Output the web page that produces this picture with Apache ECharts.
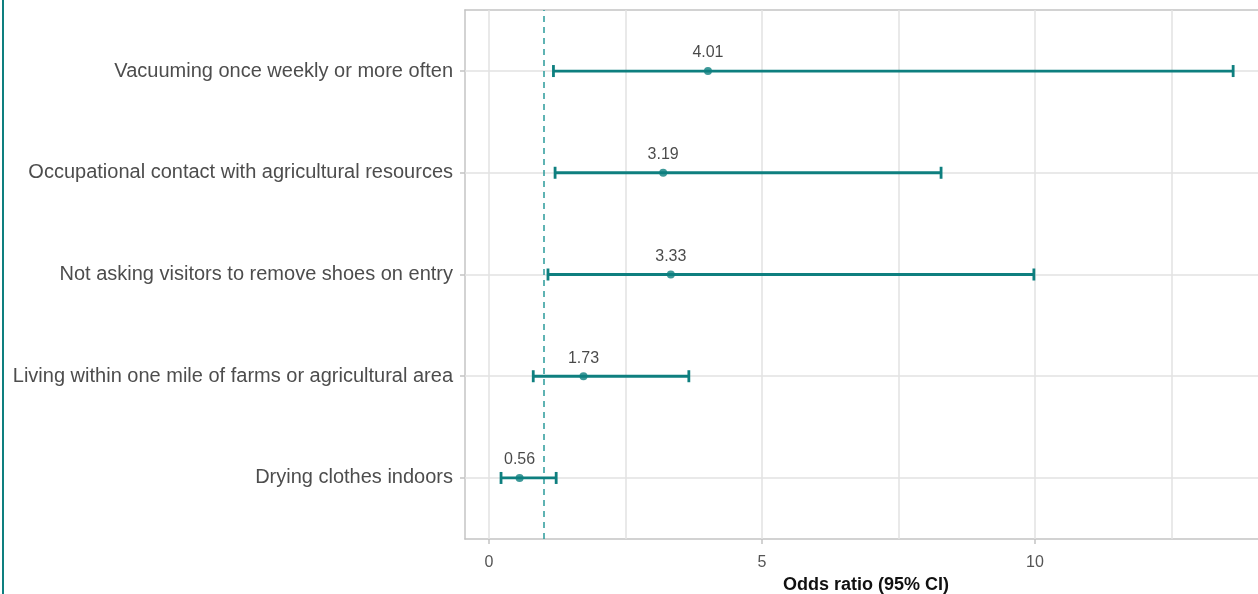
<!DOCTYPE html>
<html>
<head>
<meta charset="utf-8">
<script src="https://cdn.jsdelivr.net/npm/echarts@6/dist/echarts.min.js"></script>
<style>
  html, body { margin: 0; padding: 0; background: #fff; }
  #chart { width: 1258px; height: 594px; }
</style>
</head>
<body>
<div id="chart"></div>
<script>
// Risk factors, listed bottom to top
const categories = [
  'Drying clothes indoors',
  'Living within one mile of farms or agricultural area',
  'Not asking visitors to remove shoes on entry',
  'Occupational contact with agricultural resources',
  'Vacuuming once weekly or more often'
];
const oddsRatio = [0.56, 1.73, 3.33, 3.19, 4.01];
const ciLower   = [0.22, 0.81, 1.08, 1.21, 1.18];
const ciUpper   = [1.23, 3.66, 9.98, 8.28, 13.63];

const xTickValues  = [0, 5, 10];
const xGridValues  = [0, 2.5, 5, 7.5, 10, 12.5];
const nullEffect   = 1;

const TEAL = '#0e7f7f';
const AXIS_GREY = '#c4c4c4';
const FONT = '"Liberation Sans", Arial, sans-serif';

const rowPos = categories.map((_, i) => i + 1);
const X_MIN = -0.44, X_MAX = 14.25;

const chart = echarts.init(document.getElementById('chart'), null, { renderer: 'canvas' });

chart.setOption({
  animation: false,
  backgroundColor: '#ffffff',
  grid: {
    left: 465, right: -9, top: 10, bottom: 55,
    outerBoundsMode: 'none',
    containLabel: false,
    show: false
  },
  xAxis: [
    {
      type: 'value',
      min: X_MIN, max: X_MAX,
      name: 'Odds ratio (95% CI)',
      nameLocation: 'middle',
      nameGap: 37,
      nameTextStyle: { fontFamily: FONT, fontSize: 18, fontWeight: 'bold', color: '#111' },
      axisLine: { show: true, onZero: false, lineStyle: { color: AXIS_GREY, width: 1.5 } },
      axisTick: { show: true, customValues: xTickValues, length: 5, lineStyle: { color: AXIS_GREY, width: 1.5 } },
      axisLabel: { customValues: xTickValues, fontFamily: FONT, fontSize: 16, color: '#555', margin: 16 },
      splitLine: { show: false }
    },
    {
      // top edge of the panel
      type: 'value', position: 'top',
      min: X_MIN, max: X_MAX,
      axisLine: { show: true, onZero: false, lineStyle: { color: AXIS_GREY, width: 1.5 } },
      axisTick: { show: false }, axisLabel: { show: false }, splitLine: { show: false }
    }
  ],
  yAxis: {
    type: 'value',
    position: 'left',
    min: 0.4, max: 5.6,
    axisLine: { show: true, onZero: false, lineStyle: { color: AXIS_GREY, width: 1.5 } },
    axisTick: { show: true, customValues: rowPos, length: 5, lineStyle: { color: AXIS_GREY, width: 1.5 } },
    axisLabel: {
      customValues: rowPos,
      formatter: v => categories[Math.round(v) - 1] || '',
      fontFamily: FONT, fontSize: 20, color: '#4d4d4d', margin: 12
    },
    splitLine: { show: false }
  },
  graphic: [{
    type: 'line',
    shape: { x1: 3, y1: 0, x2: 3, y2: 594 },
    style: { stroke: TEAL, lineWidth: 2 }
  }],
  series: [
    {
      // panel grid lines
      type: 'line', data: [], silent: true, z: 1,
      markLine: {
        z: 1,
        silent: true, symbol: 'none', label: { show: false },
        lineStyle: { color: '#e2e2e2', width: 1.5, type: 'solid' },
        data: xGridValues.map(v => ({ xAxis: v })).concat(rowPos.map(v => ({ yAxis: v })))
      }
    },
    {
      // reference line at OR = 1
      type: 'line', data: [], silent: true, z: 2,
      markLine: {
        z: 2,
        silent: true, symbol: 'none', label: { show: false },
        lineStyle: { color: '#2a9b9b', width: 1.5, type: [6, 5] },
        data: [{ xAxis: nullEffect }]
      }
    },
    {
      // confidence intervals with caps
      type: 'custom', z: 3,
      data: rowPos.map((p, i) => [ciLower[i], ciUpper[i], p]),
      renderItem: (params, api) => {
        const lo = api.coord([api.value(0), api.value(2)]);
        const hi = api.coord([api.value(1), api.value(2)]);
        const cap = 6;
        const style = { stroke: TEAL, lineWidth: 2.8 };
        return {
          type: 'group',
          children: [
            { type: 'line', shape: { x1: lo[0], y1: lo[1], x2: hi[0], y2: hi[1] }, style },
            { type: 'line', shape: { x1: lo[0], y1: lo[1] - cap, x2: lo[0], y2: lo[1] + cap }, style },
            { type: 'line', shape: { x1: hi[0], y1: hi[1] - cap, x2: hi[0], y2: hi[1] + cap }, style }
          ]
        };
      }
    },
    {
      // point estimates with value labels
      type: 'scatter', z: 4,
      symbol: 'circle', symbolSize: 8,
      itemStyle: { color: TEAL },
      data: rowPos.map((p, i) => [oddsRatio[i], p]),
      label: {
        show: true, position: 'top', distance: 6,
        formatter: d => d.value[0].toFixed(2),
        fontFamily: FONT, fontSize: 16, color: '#1a1a1a'
      }
    }
  ]
});
</script>
</body>
</html>
